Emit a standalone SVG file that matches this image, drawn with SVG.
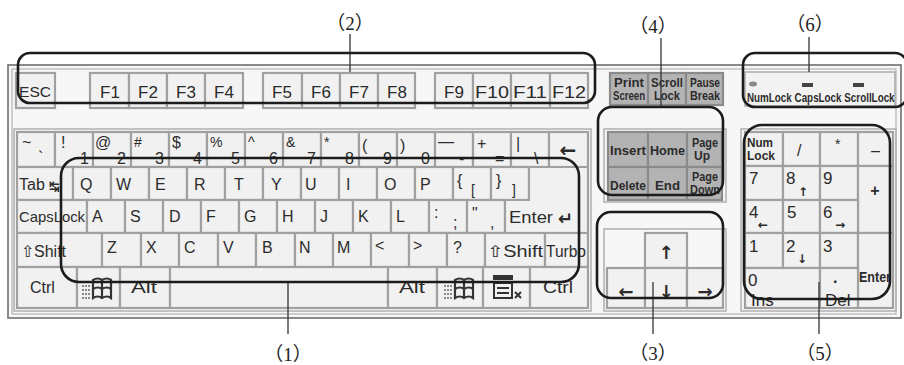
<svg xmlns="http://www.w3.org/2000/svg" xmlns:xlink="http://www.w3.org/1999/xlink" width="904" height="365" viewBox="0 0 904 365">
<style>
.k{fill:#f1f1f1;stroke:#a0a0a0;stroke-width:2.2}
.kd{fill:#b3b3b3;stroke:#8a8a8a;stroke-width:2.2}
.t{font-family:"Liberation Sans",Arial,sans-serif;fill:#2b2b2b;font-size:16px}
.c{text-anchor:middle}
.s{font-size:14px}
.f{font-size:17px}
.b{font-weight:bold}
.a{font-family:"DejaVu Sans",sans-serif;fill:#2b2b2b;font-weight:bold}
.r{fill:none;stroke:#1c1c1c;stroke-width:2.6}
.ld{stroke:#333;stroke-width:1.3}
.lb{font-family:"Liberation Serif","Noto Sans CJK SC",serif;font-size:19px;fill:#222;text-anchor:middle}
.tray{fill:none;stroke:#b0b0b0;stroke-width:1.5}
</style>
<defs>
<symbol id="winicon" viewBox="0 0 34 24">
<g fill="#555"><circle cx="2" cy="6" r="0.9"/><circle cx="5" cy="6" r="0.9"/><circle cx="8" cy="6" r="0.9"/><circle cx="2" cy="10" r="0.9"/><circle cx="5" cy="10" r="0.9"/><circle cx="8" cy="10" r="0.9"/><circle cx="2" cy="14" r="0.9"/><circle cx="5" cy="14" r="0.9"/><circle cx="8" cy="14" r="0.9"/><circle cx="2" cy="18" r="0.9"/><circle cx="5" cy="18" r="0.9"/><circle cx="8" cy="18" r="0.9"/><circle cx="2" cy="22" r="0.9"/><circle cx="5" cy="22" r="0.9"/><circle cx="8" cy="22" r="0.9"/></g>
<path d="M12,4 Q17,1 21,4 Q26,1 30,4 L30,22 Q26,19 21,22 Q17,19 12,22 Z M21,4 V22 M12,13 Q17,10 21,13 Q26,10 30,13" fill="none" stroke="#333" stroke-width="2.2"/>
</symbol>
</defs>
<rect width="904" height="365" fill="#ffffff"/>
<g id="keyboard-body">
<rect x="8" y="65" width="893" height="253" fill="#f7f7f7" stroke="#6e6e6e" stroke-width="1.6"/>
<rect x="12" y="69" width="884" height="245" fill="none" stroke="#a5a5a5" stroke-width="1"/>
<rect class="tray" x="14" y="129" width="577" height="182"/>
<rect class="tray" x="604" y="129" width="122" height="73"/>
<rect class="tray" x="604" y="229" width="122" height="82"/>
<rect class="tray" x="741" y="129" width="155" height="182"/>
</g>
<g id="function-row">
<rect class="k" x="16" y="73" width="39" height="35"/><text class="t s" x="19" y="97" textLength="32" lengthAdjust="spacingAndGlyphs">ESC</text>
<rect class="k" x="90" y="73" width="39" height="35"/><text class="t f c" x="110" y="98">F1</text>
<rect class="k" x="129" y="73" width="38" height="35"/><text class="t f c" x="148" y="98">F2</text>
<rect class="k" x="167" y="73" width="38" height="35"/><text class="t f c" x="186" y="98">F3</text>
<rect class="k" x="205" y="73" width="38" height="35"/><text class="t f c" x="224" y="98">F4</text>
<rect class="k" x="263" y="73" width="39" height="35"/><text class="t f c" x="282" y="98">F5</text>
<rect class="k" x="302" y="73" width="38" height="35"/><text class="t f c" x="321" y="98">F6</text>
<rect class="k" x="340" y="73" width="38" height="35"/><text class="t f c" x="359" y="98">F7</text>
<rect class="k" x="378" y="73" width="37" height="35"/><text class="t f c" x="397" y="98">F8</text>
<rect class="k" x="435" y="73" width="38" height="35"/><text class="t f c" x="454" y="98">F9</text>
<rect class="k" x="473" y="73" width="38" height="35"/><text class="t f c" x="492" y="98" textLength="34" lengthAdjust="spacingAndGlyphs">F10</text>
<rect class="k" x="511" y="73" width="39" height="35"/><text class="t f c" x="530" y="98" textLength="34" lengthAdjust="spacingAndGlyphs">F11</text>
<rect class="k" x="550" y="73" width="38" height="35"/><text class="t f c" x="569" y="98" textLength="34" lengthAdjust="spacingAndGlyphs">F12</text>
</g>
<g id="print-keys">
<rect class="kd" x="610" y="73" width="38" height="32"/>
<text class="t b c" style="font-size:12px" x="629" y="87" textLength="30" lengthAdjust="spacingAndGlyphs">Print</text>
<text class="t b c" style="font-size:12px" x="629" y="100" textLength="32" lengthAdjust="spacingAndGlyphs">Screen</text>
<rect class="kd" x="648" y="73" width="38" height="32"/>
<text class="t b c" style="font-size:12px" x="667" y="87" textLength="32" lengthAdjust="spacingAndGlyphs">Scroll</text>
<text class="t b c" style="font-size:12px" x="667" y="100" textLength="26" lengthAdjust="spacingAndGlyphs">Lock</text>
<rect class="kd" x="686" y="73" width="37" height="32"/>
<text class="t b c" style="font-size:12px" x="705" y="87" textLength="30" lengthAdjust="spacingAndGlyphs">Pause</text>
<text class="t b c" style="font-size:12px" x="705" y="100" textLength="30" lengthAdjust="spacingAndGlyphs">Break</text>
</g>
<g id="indicators">
<rect x="745" y="72" width="150" height="34" fill="#f2f2f2" stroke="#aaaaaa" stroke-width="1.5"/>
<ellipse cx="753" cy="84" rx="4" ry="2.5" fill="#888"/>
<rect x="802" y="83" width="11" height="4" fill="#444"/>
<rect x="853" y="83" width="11" height="4" fill="#444"/>
<text class="t b" style="font-size:12px" transform="matrix(0.82 0 0 1 747 102)" x="0" y="0">NumLock CapsLock ScrollLock</text>
</g>
<g id="number-row">
<rect class="k" x="17" y="132" width="38" height="35"/><text class="t" x="22" y="148">~</text><text class="t" x="38" y="163">`</text>
<rect class="k" x="55" y="132" width="38" height="35"/><text class="t" x="61" y="148">!</text><text class="t" x="80" y="164">1</text>
<rect class="k" x="93" y="132" width="38" height="35"/><text class="t" x="95" y="148">@</text><text class="t" x="117" y="164">2</text>
<rect class="k" x="131" y="132" width="38" height="35"/><text class="t s" x="134" y="147">#</text><text class="t" x="155" y="164">3</text>
<rect class="k" x="169" y="132" width="38" height="35"/><text class="t" x="172" y="148">$</text><text class="t" x="193" y="164">4</text>
<rect class="k" x="207" y="132" width="38" height="35"/><text class="t s" x="210" y="147">%</text><text class="t" x="231" y="164">5</text>
<rect class="k" x="245" y="132" width="38" height="35"/><text class="t s" x="248" y="147">^</text><text class="t" x="269" y="164">6</text>
<rect class="k" x="283" y="132" width="38" height="35"/><text class="t s" x="286" y="147">&amp;</text><text class="t" x="307" y="164">7</text>
<rect class="k" x="321" y="132" width="38" height="35"/><text class="t s" x="324" y="147">*</text><text class="t" x="345" y="164">8</text>
<rect class="k" x="359" y="132" width="38" height="35"/><text class="t" x="362" y="151">(</text><text class="t" x="383" y="164">9</text>
<rect class="k" x="397" y="132" width="38" height="35"/><text class="t" x="400" y="151">)</text><text class="t" x="421" y="164">0</text>
<rect class="k" x="435" y="132" width="38" height="35"/><text class="t" x="438" y="147">—</text><text class="t" x="459" y="164">-</text>
<rect class="k" x="473" y="132" width="38" height="35"/><text class="t" x="477" y="149">+</text><text class="t" x="495" y="164">=</text>
<rect class="k" x="511" y="132" width="38" height="35"/><text class="t" x="516" y="149">|</text><text class="t" x="534" y="164">\</text>
<rect class="k" x="549" y="132" width="39" height="35"/><text class="a c" style="font-size:20px" x="568" y="157">←</text>
</g>
<g id="qwerty-row">
<rect class="k" x="17" y="167" width="56" height="33"/><text class="t" x="19" y="190">Tab</text><text class="a" style="font-size:13px" x="49" y="191">↹</text>
<rect class="k" x="73" y="167" width="38" height="33"/><text class="t" x="80" y="190">Q</text>
<rect class="k" x="111" y="167" width="38" height="33"/><text class="t" x="116" y="190">W</text>
<rect class="k" x="149" y="167" width="38" height="33"/><text class="t" x="155" y="190">E</text>
<rect class="k" x="187" y="167" width="38" height="33"/><text class="t" x="194" y="190">R</text>
<rect class="k" x="225" y="167" width="38" height="33"/><text class="t" x="234" y="190">T</text>
<rect class="k" x="263" y="167" width="38" height="33"/><text class="t" x="271" y="190">Y</text>
<rect class="k" x="301" y="167" width="38" height="33"/><text class="t" x="305" y="190">U</text>
<rect class="k" x="339" y="167" width="38" height="33"/><text class="t" x="346" y="190">I</text>
<rect class="k" x="377" y="167" width="38" height="33"/><text class="t" x="384" y="190">O</text>
<rect class="k" x="415" y="167" width="38" height="33"/><text class="t" x="420" y="190">P</text>
<rect class="k" x="453" y="167" width="38" height="33"/><text class="t" x="457" y="186">{</text><text class="t s" x="471" y="195">[</text>
<rect class="k" x="491" y="167" width="38" height="33"/><text class="t" x="496" y="186">}</text><text class="t s" x="512" y="195">]</text>
</g>
<g id="home-row">
<rect class="k" x="17" y="200" width="70" height="33"/><text class="t" style="font-size:15px" x="19" y="222" textLength="66" lengthAdjust="spacingAndGlyphs">CapsLock</text>
<rect class="k" x="87" y="200" width="38" height="33"/><text class="t" x="92" y="222">A</text>
<rect class="k" x="125" y="200" width="38" height="33"/><text class="t" x="130" y="222">S</text>
<rect class="k" x="163" y="200" width="38" height="33"/><text class="t" x="169" y="222">D</text>
<rect class="k" x="201" y="200" width="38" height="33"/><text class="t" x="206" y="222">F</text>
<rect class="k" x="239" y="200" width="38" height="33"/><text class="t" x="244" y="222">G</text>
<rect class="k" x="277" y="200" width="38" height="33"/><text class="t" x="282" y="222">H</text>
<rect class="k" x="315" y="200" width="38" height="33"/><text class="t" x="320" y="222">J</text>
<rect class="k" x="353" y="200" width="38" height="33"/><text class="t" x="358" y="222">K</text>
<rect class="k" x="391" y="200" width="38" height="33"/><text class="t" x="396" y="222">L</text>
<rect class="k" x="429" y="200" width="38" height="33"/><text class="t" x="434" y="218">:</text><text class="t" x="453" y="228">;</text>
<rect class="k" x="467" y="200" width="38" height="33"/><text class="t" x="472" y="219">"</text><text class="t" x="490" y="228">,</text>
<path class="k" d="M529,167 H588 V233 H505 V200 H529 Z"/>
<text class="t" x="509" y="223" textLength="44" lengthAdjust="spacingAndGlyphs">Enter</text><text class="a" style="font-size:18px" x="558" y="225">↵</text>
</g>
<g id="shift-row">
<rect class="k" x="17" y="233" width="85" height="34"/><text class="t" x="21" y="257">⇧Shift</text>
<rect class="k" x="102" y="233" width="39" height="34"/><text class="t" x="107" y="253">Z</text>
<rect class="k" x="141" y="233" width="38" height="34"/><text class="t" x="146" y="253">X</text>
<rect class="k" x="179" y="233" width="39" height="34"/><text class="t" x="184" y="253">C</text>
<rect class="k" x="218" y="233" width="38" height="34"/><text class="t" x="223" y="253">V</text>
<rect class="k" x="256" y="233" width="39" height="34"/><text class="t" x="262" y="253">B</text>
<rect class="k" x="295" y="233" width="38" height="34"/><text class="t" x="299" y="253">N</text>
<rect class="k" x="333" y="233" width="38" height="34"/><text class="t" x="337" y="253">M</text>
<rect class="k" x="371" y="233" width="38" height="34"/><text class="t" x="375" y="251">&lt;</text>
<rect class="k" x="409" y="233" width="38" height="34"/><text class="t" x="413" y="251">&gt;</text>
<rect class="k" x="447" y="233" width="38" height="34"/><text class="t" x="453" y="253">?</text>
<rect class="k" x="485" y="233" width="60" height="34"/><text class="t" x="487" y="257" textLength="56" lengthAdjust="spacingAndGlyphs">⇧Shift</text>
<rect class="k" x="545" y="233" width="43" height="34"/><text class="t" x="546" y="257" textLength="40" lengthAdjust="spacingAndGlyphs">Turbo</text>
</g>
<g id="bottom-row">
<rect class="k" x="17" y="267" width="60" height="41"/><text class="t" x="30" y="293">Ctrl</text>
<rect class="k" x="77" y="267" width="43" height="41"/><use href="#winicon" xlink:href="#winicon" x="81" y="276" width="34" height="24"/>
<rect class="k" x="120" y="267" width="50" height="41"/><text class="t" x="131" y="293" textLength="26" lengthAdjust="spacingAndGlyphs">Alt</text>
<rect class="k" x="170" y="267" width="218" height="41"/>
<rect class="k" x="388" y="267" width="49" height="41"/><text class="t" x="399" y="293" textLength="26" lengthAdjust="spacingAndGlyphs">Alt</text>
<rect class="k" x="437" y="267" width="46" height="41"/><use href="#winicon" xlink:href="#winicon" x="443" y="276" width="34" height="24"/>
<rect class="k" x="483" y="267" width="47" height="41"/>
<g fill="none" stroke="#333" stroke-width="2"><rect x="494" y="276" width="18" height="3" fill="#333"/><rect x="494" y="283" width="18" height="15"/><line x1="497" y1="288" x2="509" y2="288"/><line x1="497" y1="293" x2="509" y2="293"/><path d="M515,292 L521,298 M521,292 L515,298"/></g>
<rect class="k" x="530" y="267" width="58" height="41"/><text class="t" x="543" y="293" textLength="30" lengthAdjust="spacingAndGlyphs">Ctrl</text>
</g>
<g id="nav-keys">
<rect class="kd" x="608" y="132" width="40" height="35"/><text class="t b" style="font-size:13px" x="610" y="155" textLength="36" lengthAdjust="spacingAndGlyphs">Insert</text>
<rect class="kd" x="648" y="132" width="39" height="35"/><text class="t b" style="font-size:13px" x="650" y="155" textLength="35" lengthAdjust="spacingAndGlyphs">Home</text>
<rect class="kd" x="687" y="132" width="35" height="35"/><text class="t b c" style="font-size:12px" x="705" y="147" textLength="26" lengthAdjust="spacingAndGlyphs">Page</text><text class="t b c" style="font-size:12px" x="702" y="160">Up</text>
<rect class="kd" x="608" y="167" width="40" height="33"/><text class="t b" style="font-size:13px" x="610" y="190" textLength="36" lengthAdjust="spacingAndGlyphs">Delete</text>
<rect class="kd" x="648" y="167" width="39" height="33"/><text class="t b" style="font-size:13px" x="655" y="190" textLength="25" lengthAdjust="spacingAndGlyphs">End</text>
<rect class="kd" x="687" y="167" width="35" height="33"/><text class="t b c" style="font-size:12px" x="705" y="181" textLength="26" lengthAdjust="spacingAndGlyphs">Page</text><text class="t b c" style="font-size:12px" x="705" y="194" textLength="30" lengthAdjust="spacingAndGlyphs">Down</text>
</g>
<g id="arrow-keys">
<rect class="k" x="645" y="233" width="42" height="35"/><text class="a c" style="font-size:18px" x="666" y="259">↑</text>
<rect class="k" x="607" y="268" width="38" height="40"/><text class="a c" style="font-size:18px" x="626" y="298">←</text>
<rect class="k" x="645" y="268" width="42" height="40"/><text class="a c" style="font-size:18px" x="666" y="298">↓</text>
<rect class="k" x="687" y="268" width="36" height="40"/><text class="a c" style="font-size:18px" x="705" y="298">→</text>
</g>
<g id="numpad-keys">
<rect class="k" x="745" y="132" width="38" height="34"/><text class="t b" style="font-size:12px" x="747" y="147" textLength="26" lengthAdjust="spacingAndGlyphs">Num</text><text class="t b" style="font-size:12px" x="747" y="160" textLength="28" lengthAdjust="spacingAndGlyphs">Lock</text>
<rect class="k" x="783" y="132" width="37" height="34"/><text class="t" x="797" y="156">/</text>
<rect class="k" x="820" y="132" width="38" height="34"/><text class="t s" x="835" y="149">*</text>
<rect class="k" x="858" y="132" width="35" height="34"/><text class="t" x="871" y="156">–</text>
<rect class="k" x="745" y="166" width="38" height="34"/><text class="t f" x="749" y="184">7</text>
<rect class="k" x="783" y="166" width="37" height="34"/><text class="t f" x="786" y="184">8</text><text class="a" style="font-size:12px" x="798" y="196">↑</text>
<rect class="k" x="820" y="166" width="38" height="34"/><text class="t f" x="823" y="184">9</text>
<rect class="k" x="858" y="166" width="35" height="67"/><text class="t b c" x="875" y="196">+</text>
<rect class="k" x="745" y="200" width="38" height="33"/><text class="t f" x="749" y="218">4</text><text class="a" style="font-size:12px" x="758" y="229">←</text>
<rect class="k" x="783" y="200" width="37" height="33"/><text class="t f" x="787" y="218">5</text>
<rect class="k" x="820" y="200" width="38" height="33"/><text class="t f" x="823" y="218">6</text><text class="a" style="font-size:12px" x="835" y="229">→</text>
<rect class="k" x="745" y="233" width="38" height="35"/><text class="t f" x="749" y="252">1</text>
<rect class="k" x="783" y="233" width="37" height="35"/><text class="t f" x="786" y="252">2</text><text class="a" style="font-size:12px" x="797" y="263">↓</text>
<rect class="k" x="820" y="233" width="38" height="35"/><text class="t f" x="823" y="252">3</text>
<rect class="k" x="858" y="233" width="35" height="75"/><text class="t b" style="font-size:14px" x="859" y="282" textLength="32" lengthAdjust="spacingAndGlyphs">Enter</text>
<rect class="k" x="745" y="268" width="75" height="40"/><text class="t f" x="748" y="286">0</text><text class="t f" x="751" y="306">Ins</text>
<rect class="k" x="820" y="268" width="38" height="40"/><text class="t b" x="833" y="283">.</text><text class="t f" x="825" y="306">Del</text>
</g>
<g id="connectors">
<line class="ld" x1="350" y1="34" x2="350" y2="72"/>
<line class="ld" x1="661" y1="38" x2="661" y2="107"/>
<line class="ld" x1="809" y1="37" x2="809" y2="72"/>
<line class="ld" x1="288" y1="282" x2="288" y2="334"/>
<line class="ld" x1="653" y1="282" x2="653" y2="334"/>
<line class="ld" x1="819" y1="282" x2="819" y2="334"/>
</g>
<g id="region-1"><rect class="r" x="61" y="158" width="518" height="124" rx="18"/><text class="lb" x="288" y="361">（1）</text></g>
<g id="region-2"><rect class="r" x="18" y="53" width="577" height="50" rx="12"/><text class="lb" x="350" y="30">（2）</text></g>
<g id="region-3"><rect class="r" x="597" y="212" width="126" height="86" rx="14"/><text class="lb" x="653" y="360">（3）</text></g>
<g id="region-4"><rect class="r" x="598" y="107" width="125" height="88" rx="14"/><text class="lb" x="653" y="33">（4）</text></g>
<g id="region-5"><rect class="r" x="744" y="125" width="146" height="174" rx="18"/><text class="lb" x="820" y="360">（5）</text></g>
<g id="region-6"><rect class="r" x="743" y="53" width="164" height="54" rx="12"/><text class="lb" x="810" y="31">（6）</text></g>
</svg>
